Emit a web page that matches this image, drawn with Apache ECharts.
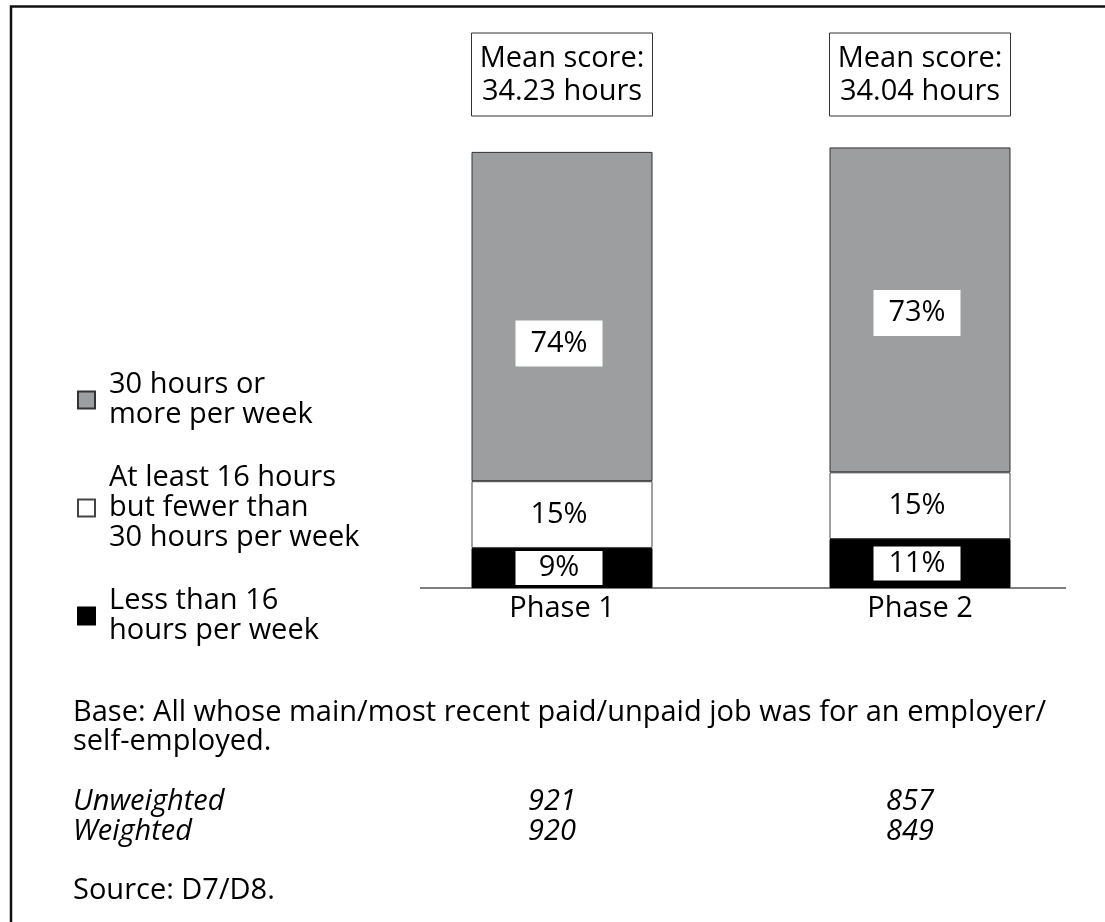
<!DOCTYPE html>
<html>
<head>
<meta charset="utf-8">
<title>Hours worked per week</title>
<script src="https://cdn.jsdelivr.net/npm/echarts@6/dist/echarts.min.js"></script>
<style>
	html, body { margin: 0; padding: 0; background: #fff; }
	#chart { width: 1105px; height: 922px; }
</style>
</head>
<body>
<div id="chart"></div>
<script>
// 数据
var phases = ['Phase 1', 'Phase 2']
var lessThan16 = [9, 11]		// 黑色
var from16to30 = [15, 15]		// 白色
var over30 = [74, 73]			// 灰色
var meanScores = ['34.23', '34.04']
var unweighted = ['921', '857']
var weighted = ['920', '849']

var nameOver30 = '30 hours or\nmore per week'
var nameMid = 'At least 16 hours\nbut fewer than\n30 hours per week'
var nameLess = 'Less than 16\nhours per week'

var font = 'Open Sans'
var fs = 29
var fw = 400
var grey = '#9d9ea0'

var chart = echarts.init(document.getElementById('chart'))

function pct(p) {
	return p.value + '%'
}

function txt(style) {
	return { fontFamily: font, fontSize: fs, fontWeight: fw, color: '#000', ...style }
}

var option = {
	animation: false,
	backgroundColor: '#fff',
	textStyle: { fontFamily: font },
	grid: { left: 383, width: 716, top: 143, height: 445 },
	legend: {
		orient: 'vertical',
		left: 72,
		top: 365,
		icon: 'rect',
		itemWidth: 17,
		itemHeight: 17,
		itemGap: 33,
		selectedMode: false,
		data: [nameOver30, nameMid, nameLess],
		textStyle: txt({ lineHeight: 30, padding: [0, 0, 0, 9] })
	},
	xAxis: {
		type: 'category',
		data: phases,
		axisLine: { show: false },
		axisTick: { show: false },
		axisLabel: txt({ lineHeight: 30, margin: 6 })
	},
	yAxis: {
		type: 'value',
		min: 0,
		max: 100,
		show: false,
		splitLine: { show: false }
	},
	series: [{
		name: nameLess,
		type: 'bar',
		stack: 'a',
		barWidth: 181,
		data: lessThan16,
		itemStyle: { color: '#000', borderColor: '#000', borderWidth: 1 },
		label: txt({
			show: true, position: 'inside', formatter: pct, offset: [-3, 0], lineHeight: 30,
			backgroundColor: '#fff', width: 87, padding: [2, 0]
		})
	}, {
		name: nameMid,
		type: 'bar',
		stack: 'a',
		data: from16to30,
		itemStyle: { color: '#fff', borderColor: '#444', borderWidth: 1 },
		label: txt({ show: true, position: 'inside', formatter: pct, offset: [-3, 0], lineHeight: 30 })
	}, {
		name: nameOver30,
		type: 'bar',
		stack: 'a',
		data: over30.map(function(v, i) {
			// 第一阶段标签偏下
			return { value: v, label: { offset: [-3, i == 0 ? 27 : 3] } }
		}),
		itemStyle: { color: grey, borderColor: '#333', borderWidth: 1 },
		label: txt({
			show: true, position: 'inside', formatter: pct, lineHeight: 30,
			backgroundColor: '#fff', width: 87, padding: [8, 0]
		})
	}]
}

chart.setOption(option)

// 注释和边框
var graphics = []
var y0 = chart.convertToPixel({ yAxisIndex: 0 }, 0)
var fontStr = fw + ' ' + fs + 'px "' + font + '"'
var italicStr = 'italic ' + fontStr

graphics.push({
	type: 'polyline',
	shape: { points: [[11, 922], [11, 6.5], [1105, 6.5]] },
	style: { stroke: '#111', lineWidth: 2.5, fill: null }
})

graphics.push({
	type: 'line',
	shape: { x1: 420, y1: y0, x2: 1066, y2: y0 },
	style: { stroke: '#555', lineWidth: 1.5 }
})

phases.forEach(function(p, i) {
	var cx = chart.convertToPixel({ xAxisIndex: 0 }, p)
	graphics.push({
		type: 'rect',
		shape: { x: cx - 90.5, y: 33, width: 181, height: 83 },
		style: { fill: '#fff', stroke: '#333', lineWidth: 1 }
	})
	graphics.push({
		type: 'text',
		x: cx,
		y: 75,
		style: {
			text: 'Mean score:\n' + meanScores[i] + ' hours',
			font: fontStr,
			lineHeight: 33.5,
			fill: '#000',
			align: 'center',
			verticalAlign: 'middle'
		}
	})
})

graphics.push({
	type: 'text', x: 73, y: 699,
	style: {
		text: 'Base: All whose main/most recent paid/unpaid job was for an employer/\nself-employed.',
		font: fontStr, lineHeight: 28.4, fill: '#000'
	}
})
graphics.push({
	type: 'text', x: 73, y: 787,
	style: { text: 'Unweighted\nWeighted', font: italicStr, lineHeight: 30, fill: '#000' }
})
graphics.push({
	type: 'text', x: 528, y: 787,
	style: { text: unweighted[0] + '\n' + weighted[0], font: italicStr, lineHeight: 30, fill: '#000' }
})
graphics.push({
	type: 'text', x: 886, y: 787,
	style: { text: unweighted[1] + '\n' + weighted[1], font: italicStr, lineHeight: 30, fill: '#000' }
})
graphics.push({
	type: 'text', x: 73, y: 876,
	style: { text: 'Source: D7/D8.', font: fontStr, lineHeight: 30, fill: '#000' }
})

chart.setOption({ graphic: graphics })
</script>
</body>
</html>
